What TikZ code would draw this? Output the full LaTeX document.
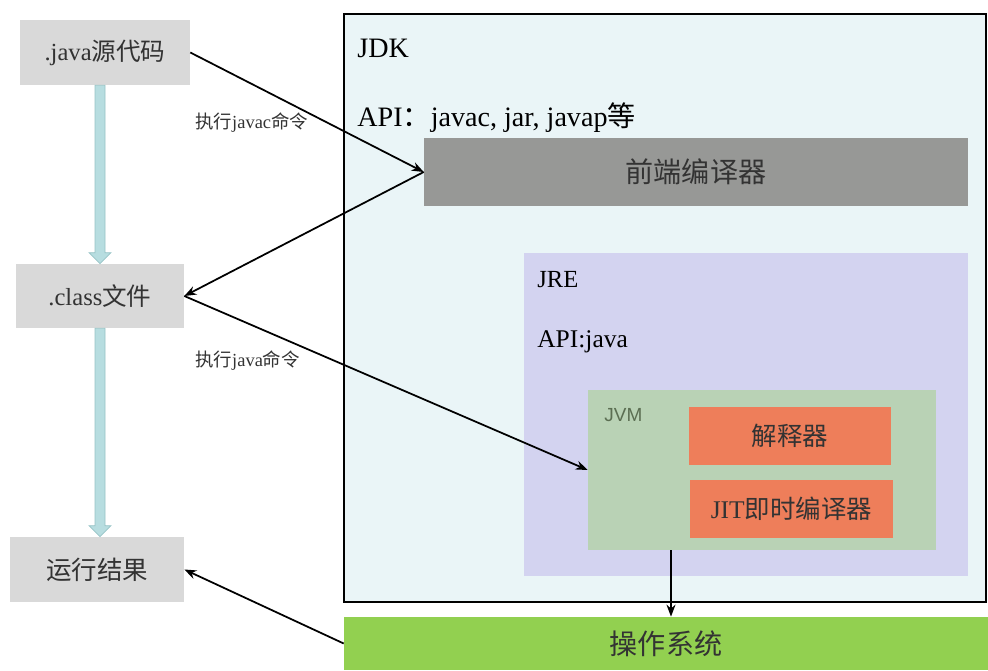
\documentclass[tikz,border=0pt]{standalone}
\usepackage{fontspec}
\setmainfont{Liberation Serif}
\newfontfamily\cjk{Noto Sans CJK SC}
\newfontfamily\jvmfont{Liberation Sans}
\usetikzlibrary{calc,arrows.meta}

\definecolor{boxgray}{HTML}{D9D9D9}
\definecolor{flowblue}{HTML}{B7DDE0}
\definecolor{flowedge}{HTML}{97C3C6}
\definecolor{jdkbg}{HTML}{EAF5F7}
\definecolor{frontgray}{HTML}{979896}
\definecolor{jrebg}{HTML}{D3D3F0}
\definecolor{jvmbg}{HTML}{B9D2B5}
\definecolor{jvmtext}{HTML}{5B6E52}
\definecolor{orangebox}{HTML}{EE7E5A}
\definecolor{osgreen}{HTML}{92D050}
\definecolor{ink}{HTML}{333333}

\tikzset{
  stepbox/.style={fill=boxgray, draw=none, inner sep=0pt, text=ink,
    font=\fontsize{14}{16}\selectfont},
  area/.style={draw=none, inner sep=0pt},
  tag/.style={anchor=west, inner sep=0pt, text=black},
  cmd/.style={anchor=west, inner sep=0pt, text=ink, font=\fontsize{10.5}{12}\selectfont},
  flow/.style={fill=flowblue, draw=flowedge, line width=0.4pt},
  link/.style={-{Stealth[length=2.4mm,width=1.8mm]}, line width=1pt, black}
}

% thick hollow arrow between the boxes on the left
\newcommand{\flowarrow}[2]{%
  \filldraw[flow] ($(#1)+(-5,0)$) -- ($(#2)+(-5,-11)$) -- ($(#2)+(-11,-11)$) --
    (#2) -- ($(#2)+(11,-11)$) -- ($(#2)+(5,-11)$) -- ($(#1)+(5,0)$) -- cycle;}

\begin{document}
\begin{tikzpicture}[x=0.02cm, y=-0.02cm]
  \useasboundingbox (0,0) rectangle (988,670);

  % JDK
  \node[area, fill=jdkbg, draw=black, line width=1.1pt,
    minimum width=12.84cm, minimum height=11.76cm] (jdk) at (665,308) {};
  \node[tag, font=\fontsize{16}{18}\selectfont] (jdktxt) at (357,48) {JDK};
  \node[tag, font=\fontsize{16}{18}\selectfont] (jdkapi) at (357,118)
    {API{\cjk ：}javac, jar, javap{\cjk 等}};
  \node[area, fill=frontgray, text=ink, font=\cjk\fontsize{16}{18}\selectfont,
    minimum width=10.88cm, minimum height=1.36cm] (front) at (696,172) {前端编译器};

  % JRE
  \node[area, fill=jrebg, minimum width=8.88cm, minimum height=6.46cm] (jre) at (746,414.5) {};
  \node[tag, font=\fontsize{14}{16}\selectfont] (jretxt) at (537,280) {JRE};
  \node[tag, font=\fontsize{14.5}{16}\selectfont] (jreapi) at (537,342) {API:java};

  % JVM
  \node[area, fill=jvmbg, minimum width=6.96cm, minimum height=3.2cm] (jvm) at (762,470) {};
  \node[tag, text=jvmtext, font=\jvmfont\fontsize{10.8}{12}\selectfont] (jvmtxt) at (604,415) {JVM};
  \node[area, fill=orangebox, text=ink, font=\cjk\fontsize{14.5}{16}\selectfont,
    minimum width=4.04cm, minimum height=1.16cm] (interp) at (790,436) {解释器};
  \node[area, fill=orangebox, text=ink, font=\fontsize{14.5}{16}\selectfont,
    minimum width=4.06cm, minimum height=1.16cm] (jit) at (791.5,509) {JIT{\cjk 即时编译器}};

  % OS
  \node[area, fill=osgreen, text=ink, font=\cjk\fontsize{16}{18}\selectfont,
    minimum width=12.88cm, minimum height=1.06cm] (os) at (666,643.5) {操作系统};

  % left column
  \node[stepbox, minimum width=3.4cm, minimum height=1.3cm] (java) at (105,52.5)
    {.java{\cjk 源代码}};
  \node[stepbox, minimum width=3.36cm, minimum height=1.28cm] (class) at (100,296)
    {.class{\cjk 文件}};
  \node[stepbox, font=\cjk\fontsize{14.5}{16}\selectfont,
    minimum width=3.48cm, minimum height=1.3cm] (result) at (97,569.5) {运行结果};

  \flowarrow{java.south -| class.north}{class.north}
  \flowarrow{class.south}{class.south |- result.north}

  \node[cmd] (javac) at (195,123) {{\cjk 执行}javac{\cjk 命令}};
  \node[cmd] (run) at (195,361) {{\cjk 执行}java{\cjk 命令}};

  \draw[link] (java.east) -- (front.west);
  \draw[link] (front.west) -- (class.east);
  \draw[link] (class.east) -- (jvm.west);
  \draw[link] (jvm.south -| 671,0) -- (os.north -| 671,0);
  \draw[link] (os.west) -- (result.east);
\end{tikzpicture}
\end{document}
